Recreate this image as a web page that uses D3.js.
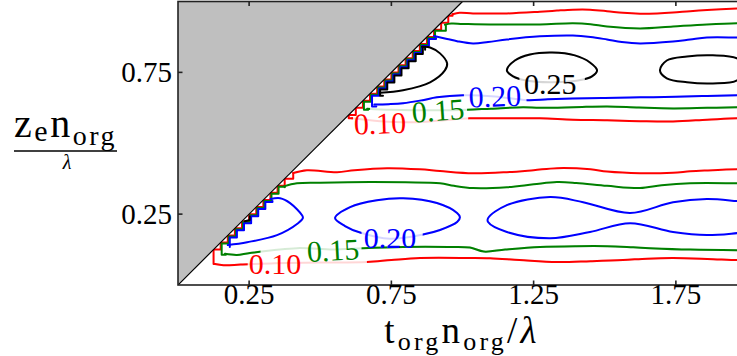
<!DOCTYPE html>
<html><head><meta charset="utf-8">
<script src="https://cdn.jsdelivr.net/npm/d3@7/dist/d3.min.js"></script>
<style>html,body{margin:0;padding:0;background:#fff;overflow:hidden}</style>
</head><body>
<svg id="c" width="737" height="356"></svg>
<script>
// ---------------- data (t = t_org n_org / lambda, z = z_e n_org / lambda) ----------------
const xTicks = [0.25, 0.75, 1.25, 1.75];
const yTicks = [0.25, 0.75];
const levels = [0.10, 0.15, 0.20, 0.25];

// upper band
const upRedTop = [[2.0,0.976],[1.965,0.975],[1.86,0.970],[1.80,0.966],[1.74,0.961],[1.684,0.958],[1.624,0.957],[1.564,0.960],[1.508,0.966],[1.448,0.971],[1.388,0.971],[1.332,0.968],[1.272,0.964],[1.156,0.958],[1.037,0.958],[0.99,0.96],[0.965,0.955]];
const upRedEdge = [0.95,0.925,0.9,0.875,0.85,0.825,0.8,0.775,0.75,0.725,0.7,0.675,0.65,0.625,0.6];
const upRedBottom = [[0.612,0.588],[0.71,0.578],[0.826,0.574],[0.92,0.58],[1.026,0.588],[1.156,0.588],[1.272,0.588],[1.388,0.583],[1.508,0.581],[1.624,0.578],[1.74,0.577],[1.86,0.583],[1.965,0.588],[2.0,0.588]];

const upGreenTop = [[2.0,0.923],[1.965,0.923],[1.859,0.919],[1.74,0.912],[1.624,0.905],[1.508,0.912],[1.45,0.92],[1.388,0.923],[1.272,0.919],[1.097,0.919],[1.0,0.921],[0.96,0.922],[0.938,0.918]];
const upGreenEdge = [0.9,0.875,0.85,0.825,0.8,0.775,0.75,0.725,0.7,0.675,0.65];
const upGreenBottom = [[0.665,0.622],[0.75,0.618],[0.914,0.616],[1.016,0.618],[1.1,0.622],[1.213,0.627],[1.272,0.625],[1.39,0.627],[1.508,0.63],[1.62,0.626],[1.74,0.623],[1.86,0.625],[1.965,0.627],[2.0,0.627]];

const upBlueTop = [[2.0,0.873],[1.965,0.873],[1.859,0.873],[1.80,0.866],[1.74,0.859],[1.624,0.852],[1.56,0.857],[1.508,0.866],[1.45,0.875],[1.388,0.88],[1.272,0.877],[1.156,0.866],[1.09,0.857],[1.037,0.852],[0.981,0.86],[0.946,0.868],[0.9,0.878]];
const upBlueEdge = [0.875,0.85,0.825,0.8,0.775,0.75,0.725,0.7,0.675];
const upBlueBottom = [[0.69,0.637],[0.74,0.638],[0.791,0.641],[0.86,0.652],[0.91,0.662],[1.002,0.669],[1.114,0.665],[1.227,0.652],[1.3,0.655],[1.388,0.658],[1.5,0.66],[1.624,0.662],[1.75,0.664],[1.86,0.667],[1.965,0.669],[2.0,0.669]];

const upBlackBody = [[0.71,0.678],[0.791,0.687],[0.886,0.715],[0.938,0.757],[0.946,0.782],[0.921,0.817],[0.886,0.838],[0.858,0.84]];
const upBlackEdge = [0.85,0.825,0.8,0.775,0.75,0.725,0.7];
const blackEllipseA = [[1.156,0.757],[1.184,0.792],[1.237,0.813],[1.315,0.82],[1.395,0.81],[1.448,0.785],[1.473,0.757],[1.455,0.736],[1.424,0.725],[1.315,0.715],[1.22,0.722],[1.178,0.736]];
const blackEllipseB = [[1.694,0.757],[1.718,0.792],[1.789,0.806],[1.88,0.81],[1.965,0.799],[1.995,0.765],[1.965,0.722],[1.88,0.711],[1.789,0.715],[1.718,0.729]];

// lower band
const loRedTop = [[2.0,0.408],[1.965,0.408],[1.86,0.404],[1.8,0.401],[1.74,0.396],[1.624,0.394],[1.508,0.4],[1.45,0.408],[1.332,0.412],[1.25,0.405],[1.156,0.398],[1.037,0.394],[0.921,0.402],[0.85,0.408],[0.735,0.412],[0.62,0.405],[0.559,0.398],[0.453,0.405],[0.405,0.395]];
const loRedEdge = [0.375,0.35,0.325,0.3,0.275,0.25,0.225,0.2,0.175,0.15,0.125];
const loRedBottom = [[0.13,0.074],[0.16,0.07],[0.22,0.072],[0.341,0.077],[0.5,0.079],[0.664,0.081],[0.75,0.088],[0.851,0.095],[1.026,0.095],[1.097,0.094],[1.2,0.088],[1.332,0.081],[1.45,0.084],[1.564,0.088],[1.65,0.093],[1.74,0.095],[1.86,0.092],[1.965,0.088],[2.0,0.088]];

const loGreenTop = [[2.0,0.359],[1.965,0.359],[1.8,0.359],[1.7,0.352],[1.624,0.342],[1.508,0.35],[1.4,0.36],[1.332,0.363],[1.25,0.355],[1.156,0.345],[1.037,0.342],[0.97,0.35],[0.921,0.359],[0.8,0.362],[0.675,0.363],[0.5,0.361],[0.418,0.359],[0.372,0.348]];
const loGreenEdge = [0.35,0.325,0.3,0.275,0.25,0.225,0.2,0.175,0.15];
const loGreenBottom = [[0.165,0.11],[0.207,0.106],[0.253,0.113],[0.418,0.13],[0.545,0.125],[0.65,0.13],[0.791,0.134],[0.95,0.134],[1.026,0.132],[1.075,0.118],[1.15,0.125],[1.272,0.134],[1.4,0.137],[1.508,0.137],[1.6,0.133],[1.659,0.13],[1.8,0.125],[1.965,0.123],[2.0,0.123]];

const loBlueLeft = [[0.175,0.141],[0.243,0.151],[0.348,0.176],[0.422,0.218],[0.439,0.236],[0.436,0.246],[0.394,0.289],[0.359,0.306],[0.325,0.303]];
const loBlueEdge = [0.3,0.275,0.25,0.225,0.2,0.175];
const loBlueMid = [[0.552,0.236],[0.605,0.275],[0.699,0.299],[0.791,0.306],[0.91,0.289],[0.981,0.254],[0.991,0.239],[0.981,0.222],[0.921,0.194],[0.861,0.178],[0.745,0.163],[0.64,0.185],[0.587,0.208]];
const loBlueRight = [[1.09,0.236],[1.156,0.282],[1.308,0.31],[1.424,0.292],[1.589,0.254],[1.74,0.292],[1.859,0.303],[1.965,0.296],[2.03,0.29],[2.03,0.19],[1.965,0.183],[1.859,0.176],[1.74,0.187],[1.589,0.218],[1.448,0.187],[1.308,0.165],[1.156,0.187],[1.09,0.222]];
const loBlackSpeck = [[0.235,0.225],[0.252,0.229],[0.252,0.242]];

// inline contour labels
const labelText  = ["0.10", "0.15", "0.20", "0.25", "0.10", "0.15", "0.20"];
const labelLevel = [0.10, 0.15, 0.20, 0.25, 0.10, 0.15, 0.20];
const labelT     = [0.71, 0.914, 1.114, 1.308, 0.341, 0.545, 0.745];
const labelZ     = [0.571, 0.616, 0.666, 0.711, 0.077, 0.123, 0.169];
const labelAngle = [-2, -4, -2, 0, 0, -3, 0];

// line gaps left by the inline labels: [t0, t1, z0, z1]
const gapUpRed   = [0.615, 1.02, 0.55, 0.61];
const gapUpGreen = [0.675, 1.016, 0.595, 0.64];
const gapUpBlue  = [1.005, 1.225, 0.64, 0.69];
const gapEllA    = [1.2, 1.43, 0.69, 0.745];
const gapLoRed   = [0.245, 0.664, 0.05, 0.105];
const gapLoGreen = [0.29, 0.645, 0.10, 0.15];
const gapLoBlue  = [0.645, 0.86, 0.14, 0.20];

// ---------------- drawing ----------------
const W = 737, H = 356;
const svg = d3.select("#c");
const x = d3.scaleLinear().domain([0, 2]).range([178, 747]);
const y = d3.scaleLinear().domain([0, 1]).range([285, 1.5]);
const color = d3.scaleOrdinal().domain(levels).range(["#ff0000", "#008000", "#0000ff", "#000000"]);
const stairShift = d3.scaleOrdinal().domain(levels).range([0, 1, 2, 3]);

const defs = svg.append("defs");
defs.append("clipPath").attr("id", "plot").append("rect")
  .attr("x", x(0)).attr("y", y(1)).attr("width", x(2) - x(0)).attr("height", y(0) - y(1));

const smooth = d3.line().x(d => x(d[0])).y(d => y(d[1])).curve(d3.curveCatmullRom.alpha(0.5));
const smoothClosed = d3.line().x(d => x(d[0])).y(d => y(d[1])).curve(d3.curveCatmullRomClosed.alpha(0.5));
const stair = d3.line().x(d => x(d[0])).y(d => y(d[1])).curve(d3.curveStepBefore);

const gLines = svg.append("g").attr("clip-path", "url(#plot)");
let maskId = 0;
function stroke(sel, lvl) {
  return sel.attr("fill", "none").attr("stroke", color(lvl)).attr("stroke-width", 2)
    .attr("stroke-linejoin", "round").attr("stroke-linecap", "round");
}
function body(pts, lvl, closed, gap) {
  const d = (closed ? smoothClosed : smooth)(pts);
  if (!gap) { stroke(gLines.append("path").attr("d", d), lvl); return; }
  stroke(gLines.append("path").attr("d", d), lvl).attr("stroke-opacity", 0.16);
  const id = "gap" + (maskId++);
  const m = defs.append("mask").attr("id", id).attr("maskUnits", "userSpaceOnUse")
    .attr("x", 0).attr("y", 0).attr("width", W + 40).attr("height", H);
  m.append("rect").attr("x", 0).attr("y", 0).attr("width", W + 40).attr("height", H).attr("fill", "#fff");
  m.append("rect").attr("x", x(gap[0])).attr("y", y(gap[3]))
    .attr("width", x(gap[1]) - x(gap[0])).attr("height", y(gap[2]) - y(gap[3])).attr("fill", "#000");
  stroke(gLines.append("path").attr("d", d), lvl).attr("mask", `url(#${id})`);
}
function edge(from, vals, to, lvl) {
  const pts = [from, ...vals.map(v => [v, v]), to];
  const k = stairShift(lvl);
  stroke(gLines.append("path").attr("d", stair(pts)), lvl).attr("transform", `translate(${k},${k})`);
}
function band(top, vals, bottom, lvl, gap) {
  body(top, lvl, false, null);
  edge(top[top.length - 1], vals, bottom[0], lvl);
  body(bottom, lvl, false, gap);
}

// lower band
band(loRedTop, loRedEdge, loRedBottom, 0.10, gapLoRed);
band(loGreenTop, loGreenEdge, loGreenBottom, 0.15, gapLoGreen);
body(loBlueLeft, 0.20, false, null);
edge(loBlueLeft[loBlueLeft.length - 1], loBlueEdge, loBlueLeft[0], 0.20);
body(loBlueMid, 0.20, true, gapLoBlue);
body(loBlueRight, 0.20, true, null);
stroke(gLines.append("path").attr("d", d3.line().x(d => x(d[0])).y(d => y(d[1]))(loBlackSpeck)), 0.25);

// upper band
band(upRedTop, upRedEdge, upRedBottom, 0.10, gapUpRed);
band(upGreenTop, upGreenEdge, upGreenBottom, 0.15, gapUpGreen);
band(upBlueTop, upBlueEdge, upBlueBottom, 0.20, gapUpBlue);
body(upBlackBody, 0.25, false, null);
edge(upBlackBody[upBlackBody.length - 1], upBlackEdge, upBlackBody[0], 0.25);
body(blackEllipseA, 0.25, true, gapEllA);
body(blackEllipseB, 0.25, true, null);

// excluded region t < z
const gGray = svg.append("g").attr("clip-path", "url(#plot)");
gGray.append("path").attr("d", d3.line().x(d => x(d[0])).y(d => y(d[1]))([[0, 0], [0, 1], [1, 1]]) + "Z")
  .attr("fill", "#bfbfbf");
gGray.append("line").attr("x1", x(0)).attr("y1", y(0)).attr("x2", x(1)).attr("y2", y(1))
  .attr("stroke", "#000").attr("stroke-width", 1.2);

// contour labels
const FONT = "'Liberation Serif', 'DejaVu Serif', serif";
svg.append("g").selectAll("text").data(labelText).join("text")
  .attr("transform", (d, i) => `translate(${x(labelT[i])},${y(labelZ[i])}) rotate(${labelAngle[i]})`)
  .attr("text-anchor", "middle").attr("dominant-baseline", "central")
  .attr("font-family", FONT).attr("font-size", 30)
  .attr("fill", (d, i) => color(labelLevel[i]))
  .text(d => d);

// frame
const gAx = svg.append("g").attr("stroke", "#222").attr("stroke-width", 1.6).attr("fill", "none");
gAx.append("rect").attr("x", x(0)).attr("y", y(1)).attr("width", x(2) - x(0)).attr("height", y(0) - y(1));
xTicks.forEach(t => {
  gAx.append("line").attr("x1", x(t)).attr("x2", x(t)).attr("y1", y(0)).attr("y2", y(0) - 4.5);
  gAx.append("line").attr("x1", x(t)).attr("x2", x(t)).attr("y1", y(1)).attr("y2", y(1) + 4.5);
});
yTicks.forEach(t => {
  gAx.append("line").attr("x1", x(0)).attr("x2", x(0) + 4.5).attr("y1", y(t)).attr("y2", y(t));
});

// tick labels
svg.append("g").selectAll("text").data(xTicks).join("text")
  .attr("x", d => x(d)).attr("y", 304).attr("text-anchor", "middle")
  .attr("font-family", FONT).attr("font-size", 29).attr("fill", "#000")
  .text(d => d.toFixed(2));
svg.append("g").selectAll("text").data(yTicks).join("text")
  .attr("x", 172).attr("y", d => y(d) + 9.5).attr("text-anchor", "end")
  .attr("font-family", FONT).attr("font-size", 29).attr("fill", "#000")
  .text(d => d.toFixed(2));

// x axis label: t_org n_org / λ  (one text run with sub-script spans)
const xl = svg.append("text").attr("x", 462).attr("y", 343).attr("text-anchor", "middle")
  .attr("font-family", FONT).attr("font-size", 37).attr("letter-spacing", 3.2);
xl.append("tspan").text("t");
xl.append("tspan").attr("font-size", 26).attr("dy", 7).text("org");
xl.append("tspan").attr("dy", -7).text("n");
xl.append("tspan").attr("font-size", 26).attr("dy", 7).text("org");
xl.append("tspan").attr("dy", -7).text("/");
xl.append("tspan").attr("font-style", "italic").text("λ");

// y axis label: fraction z_e n_org over λ
const yl = svg.append("text").attr("x", 65.5).attr("y", 137).attr("text-anchor", "middle")
  .attr("font-family", FONT).attr("font-size", 40).attr("letter-spacing", 2.5);
yl.append("tspan").text("z");
yl.append("tspan").attr("font-size", 30).attr("dy", 4).text("e");
yl.append("tspan").attr("dy", -4).text("n");
yl.append("tspan").attr("font-size", 28).attr("dy", 8).text("org");
svg.append("line").attr("x1", 14).attr("x2", 117).attr("y1", 151).attr("y2", 151)
  .attr("stroke", "#000").attr("stroke-width", 1.5);
svg.append("text").attr("x", 67).attr("y", 169).attr("text-anchor", "middle")
  .attr("font-family", FONT).attr("font-size", 20).attr("font-style", "italic").text("λ");
</script>
</body></html>
